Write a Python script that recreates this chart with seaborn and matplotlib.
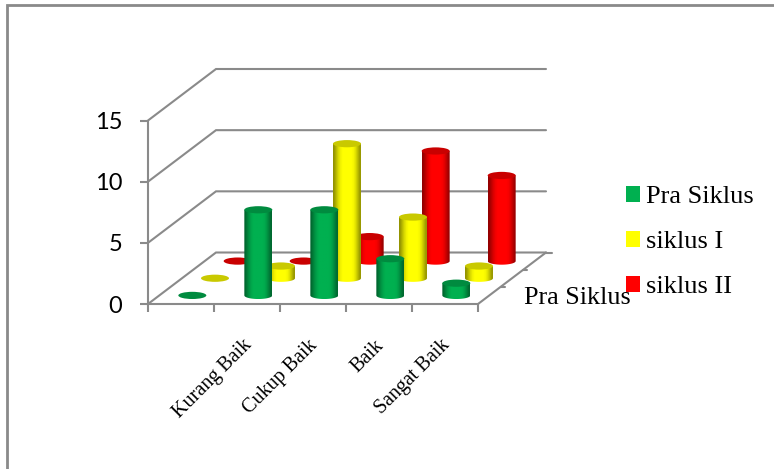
import numpy as np
import pandas as pd
import matplotlib
matplotlib.use("Agg")
import matplotlib.pyplot as plt
import seaborn as sns
from matplotlib.lines import Line2D
from matplotlib.patches import Ellipse, Patch, PathPatch
from matplotlib.path import Path
from matplotlib.colors import to_rgb

# Student assessment counts by category and teaching cycle
categories = ["", "Kurang Baik", "Cukup Baik", "Baik", "Sangat Baik"]
series_names = ["Pra Siklus", "siklus I", "siklus II"]
pra_siklus = [0, 7, 7, 3, 1]
siklus_1 = [0, 1, 11, 5, 1]
siklus_2 = [0, 0, 2, 9, 7]
y_ticks = [0, 5, 10, 15]
depth_label = "Pra Siklus"

sns.set_theme(style="white", rc={"font.family": "Liberation Serif"})
palette = sns.color_palette(["#00B050", "#FFFF00", "#FF0000"])
GRAY = "#8A8A8A"
LW = 1.5

df = pd.DataFrame({"kategori": categories, "Pra Siklus": pra_siklus,
                   "siklus I": siklus_1, "siklus II": siklus_2})
long = df.melt(id_vars="kategori", var_name="seri", value_name="nilai")

W, H = 774, 469
fig = plt.figure(figsize=(W / 100, H / 100), dpi=100, facecolor="white")
ax = fig.add_axes([148 / W, (H - 304) / H, 330 / W, 183.5 / H])
ax.patch.set_alpha(0)

# Oblique depth direction and cylinder size, in data units
DX, DY = 68 / 66, 51.5 / (183.5 / 15)
RX, RY = 14 / 66, 3.6 / (183.5 / 15)


def project(cat_pos, value, depth):
    return cat_pos + depth * DX, value + depth * DY


# Floor and back-wall grid
for v in y_ticks:
    x0, y0 = project(0, v, 0)
    x1, y1 = project(0, v, 1)
    x2, y2 = project(5, v, 1)
    ax.plot([x0, x1, x2], [y0, y1, y2], color=GRAY, lw=LW, clip_on=False,
            solid_joinstyle="miter", zorder=1)
xa, ya = project(5, 0, 0)
xb, yb = project(5, 0, 1)
ax.plot([xa, xb], [ya, yb], color=GRAY, lw=LW, clip_on=False, zorder=1)
for d, stub in ((1 / 3, 4), (2 / 3, 4), (1, 6)):
    xt, yt = project(5, 0, d)
    ax.plot([xt, xt + stub / 66], [yt, yt], color=GRAY, lw=LW, clip_on=False, zorder=1)

profile = np.array([0.58, 0.72, 0.85, 0.95, 1, 1, 1, 1, 1, 0.97, 0.88, 0.74, 0.6])


def cylinder(cat_pos, value, depth, color, z):
    cx, base = project(cat_pos, 0, depth)
    top = base + value
    rgb = np.array(to_rgb(color))
    cap = rgb * 0.79
    if value > 0:
        t = np.linspace(np.pi, 2 * np.pi, 40)
        verts = np.column_stack([cx + RX * np.cos(t), base + RY * np.sin(t)])
        verts = np.vstack([verts, [cx + RX, top], [cx - RX, top], verts[0]])
        codes = [Path.MOVETO] + [Path.LINETO] * (len(verts) - 2) + [Path.CLOSEPOLY]
        body = PathPatch(Path(verts, codes), fc="none", ec="none", clip_on=False)
        ax.add_patch(body)
        img = (profile[:, None] * rgb[None, :])[None, :, :]
        im = ax.imshow(img, extent=[cx - RX, cx + RX, base - RY, top], aspect="auto",
                       interpolation="bilinear", zorder=z)
        im.set_clip_box(fig.bbox)
        im.set_clip_path(body)
    ax.add_patch(Ellipse((cx, top), 2 * RX, 2 * RY, fc=cap, ec="none", zorder=z + 0.1,
                         clip_on=False))


# Rows are painted back to front so nearer cylinders overlap farther ones
for s_idx in range(len(series_names) - 1, -1, -1):
    sub = long[long["seri"] == series_names[s_idx]]
    depth = (s_idx + 0.5) / len(series_names)
    for c_idx, val in enumerate(sub["nilai"]):
        cylinder(c_idx + 0.5, val, depth, palette[s_idx], 3 + (2 - s_idx) * 2)

ax.set_xlim(0, 5)
ax.set_ylim(0, 15)
ax.set_xticks(range(6))
ax.set_xticklabels([])
ax.set_yticks(y_ticks)
ax.set_yticklabels([str(v) for v in y_ticks], fontfamily="Lato", fontsize=17, color="black")
ax.tick_params(axis="both", length=5.5, width=LW, color=GRAY, direction="out",
               left=True, bottom=True)
ax.tick_params(axis="y", pad=13)
sns.despine(ax=ax, top=True, right=True)
for side in ("left", "bottom"):
    ax.spines[side].set_color(GRAY)
    ax.spines[side].set_linewidth(LW)

# Category names sit slanted beneath the front edge
for c_idx, name in enumerate(categories):
    if name:
        ax.annotate(name, xy=(c_idx + 0.5, 0), xytext=(-3.5, -23), textcoords="offset points",
                    rotation=45, ha="right", va="top", rotation_mode="anchor",
                    fontsize=14.5, color="black", annotation_clip=False)

ax.text(577.5 / W, (H - 298) / H, depth_label, transform=fig.transFigure, ha="center",
        va="center", fontsize=18.8, color="black", zorder=20)

handles = [Patch(facecolor=palette[i], edgecolor="none") for i in range(3)]
fig.legend(handles, series_names, loc="upper left",
           bbox_to_anchor=(626 / W, (H - 186) / H), frameon=False, fontsize=19,
           handlelength=0.54, handleheight=0.54, handletextpad=0.22, labelspacing=0.86,
           borderpad=0, borderaxespad=0, labelcolor="black")

# Outer chart frame, cut off by the canvas on the right and bottom
fig.add_artist(Line2D([6.5 / W, 6.5 / W, 1], [0, (H - 5.5) / H, (H - 5.5) / H],
                      color=GRAY, lw=2, transform=fig.transFigure,
                      solid_joinstyle="miter"))

fig.savefig("out.png", dpi=100, facecolor="white")
